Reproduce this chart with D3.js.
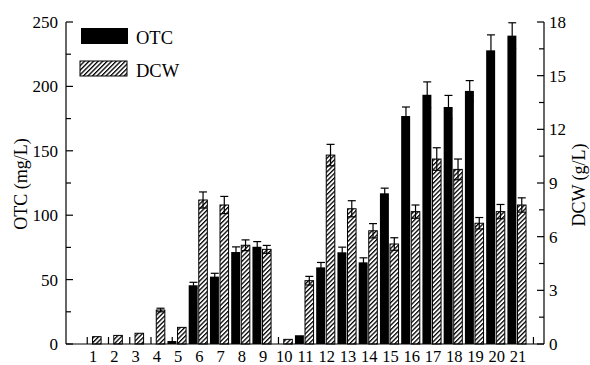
<!DOCTYPE html>
<html>
<head>
<meta charset="utf-8">
<script src="https://cdn.jsdelivr.net/npm/d3@7"></script>
<style>
  body { margin: 0; background: #fff; }
  svg text { font-family: "Liberation Serif", "Times New Roman", serif; fill: #000; }
</style>
</head>
<body>
<div id="chart"></div>
<script>
"use strict";

// Data
const categories = d3.range(1, 22).map(String);
const otcValues = [0, 0, 0, 0, 2.3, 45.6, 52.3, 71.4, 75.5, 0, 6.8, 59.5, 71.2, 63.4, 117, 177, 193.5, 184, 196.5, 228, 239.4];
const otcErrors = [0, 0, 0, 0, 0, 2.3, 2.6, 4, 4, 0, 0, 3.8, 4, 3.5, 4, 7, 10, 9, 8, 12, 10];
const dcwValues = [0.41, 0.48, 0.6, 1.9, 0.93, 8.05, 7.77, 5.52, 5.29, 0.26, 3.54, 10.56, 7.56, 6.33, 5.59, 7.4, 10.34, 9.76, 6.75, 7.4, 7.77];
const dcwErrors = [0, 0, 0, 0.1, 0, 0.45, 0.48, 0.3, 0.22, 0, 0.24, 0.6, 0.45, 0.4, 0.35, 0.37, 0.63, 0.58, 0.32, 0.4, 0.4];
const otcTicks = [0, 50, 100, 150, 200, 250];
const dcwTicks = [0, 3, 6, 9, 12, 15, 18];

const W = 590, H = 365;
const plotLeft = 66, plotRight = 544, plotTop = 22, plotBottom = 344;

const svg = d3.select("#chart").append("svg")
    .attr("width", W)
    .attr("height", H);

// hatch pattern for DCW bars
const defs = svg.append("defs");
defs.append("pattern")
    .attr("id", "hatch")
    .attr("patternUnits", "userSpaceOnUse")
    .attr("width", 3.2)
    .attr("height", 3.2)
    .attr("patternTransform", "rotate(45)")
    .append("rect")
    .attr("x", 0).attr("y", 0)
    .attr("width", 1.3).attr("height", 3.2)
    .attr("fill", "#000");

// Scales
const x = d3.scaleBand()
    .domain(categories)
    .range([81.4, 527.6])
    .paddingInner(0.1)
    .paddingOuter(0.05);
const half = x.bandwidth() / 2;
const yL = d3.scaleLinear().domain([0, 250]).range([plotBottom, plotTop]);
const yR = d3.scaleLinear().domain([0, 18]).range([plotBottom, plotTop]);

// Bars
const rows = categories.map((c, i) => ({
    c, otc: otcValues[i], otcE: otcErrors[i], dcw: dcwValues[i], dcwE: dcwErrors[i]
}));

svg.selectAll(".otc")
    .data(rows.filter(d => d.otc > 0))
    .enter().append("rect")
    .attr("class", "otc")
    .attr("x", d => x(d.c))
    .attr("y", d => yL(d.otc))
    .attr("width", half - 0.6)
    .attr("height", d => plotBottom - yL(d.otc))
    .attr("fill", "#000");

svg.selectAll(".dcw")
    .data(rows)
    .enter().append("rect")
    .attr("class", "dcw")
    .attr("x", d => x(d.c) + half + 0.5)
    .attr("y", d => yR(d.dcw))
    .attr("width", half - 1)
    .attr("height", d => plotBottom - yR(d.dcw))
    .attr("fill", "url(#hatch)")
    .attr("stroke", "#000")
    .attr("stroke-width", 1);

// Error bars
const drawErr = (cx, yHi, yLo) => {
    const g = svg.append("g").attr("stroke", "#000").attr("stroke-width", 1.2);
    g.append("line").attr("x1", cx).attr("x2", cx).attr("y1", yLo).attr("y2", yHi);
    g.append("line").attr("x1", cx - 4).attr("x2", cx + 4).attr("y1", yHi).attr("y2", yHi);
    g.append("line").attr("x1", cx - 4).attr("x2", cx + 4).attr("y1", yLo).attr("y2", yLo);
};
rows.forEach(d => {
    if (d.otcE > 0) {
        drawErr(x(d.c) + half / 2, yL(d.otc + d.otcE), yL(d.otc - d.otcE));
    }
    if (d.dcwE > 0) {
        drawErr(x(d.c) + half * 1.5, yR(d.dcw + d.dcwE), yR(d.dcw - d.dcwE));
    }
});

// Axes
const ax = svg.append("g").attr("stroke", "#000").attr("stroke-width", 1.2).attr("fill", "none");
ax.append("line").attr("x1", plotLeft).attr("x2", plotRight).attr("y1", plotBottom).attr("y2", plotBottom);
ax.append("line").attr("x1", plotLeft).attr("x2", plotLeft).attr("y1", plotBottom).attr("y2", plotTop);
ax.append("line").attr("x1", plotRight).attr("x2", plotRight).attr("y1", plotBottom).attr("y2", plotTop);

// left ticks (inward)
d3.range(0, 251, 25).forEach(v => {
    const major = v % 50 === 0;
    ax.append("line").attr("x1", plotLeft).attr("x2", plotLeft + (major ? 7 : 5))
        .attr("y1", yL(v)).attr("y2", yL(v));
});
svg.append("g").selectAll("text")
    .data(otcTicks).enter().append("text")
    .attr("x", plotLeft - 8)
    .attr("y", d => yL(d) + 6)
    .attr("text-anchor", "end")
    .attr("font-size", 17)
    .text(d => d);

// right ticks (inward)
d3.range(0, 18.01, 1.5).forEach(v => {
    const major = Math.abs(v % 3) < 1e-6;
    ax.append("line").attr("x1", plotRight).attr("x2", plotRight - (major ? 7 : 5))
        .attr("y1", yR(v)).attr("y2", yR(v));
});
svg.append("g").selectAll("text")
    .data(dcwTicks).enter().append("text")
    .attr("x", plotRight + 5)
    .attr("y", d => yR(d) + 6)
    .attr("text-anchor", "start")
    .attr("font-size", 17)
    .text(d => d);

// bottom ticks (inward, at the OTC bar centres, one extra at the end)
const tickXs = categories.map(c => x(c) + half / 2);
tickXs.push(x(categories[categories.length - 1]) + x.step() + half / 2);
tickXs.forEach(tx => {
    ax.append("line").attr("x1", tx).attr("x2", tx).attr("y1", plotBottom).attr("y2", plotBottom - 7);
});
svg.append("g").selectAll("text")
    .data(categories).enter().append("text")
    .attr("x", d => x(d) + half + 1)
    .attr("y", 362)
    .attr("text-anchor", "middle")
    .attr("font-size", 16.5)
    .text(d => d);

// Axis titles
svg.append("text")
    .attr("transform", "translate(27,184) rotate(-90)")
    .attr("text-anchor", "middle")
    .attr("font-size", 18)
    .text("OTC (mg/L)");
svg.append("text")
    .attr("transform", "translate(585,185) rotate(-90)")
    .attr("text-anchor", "middle")
    .attr("font-size", 18)
    .text("DCW (g/L)");

// Legend
const legend = svg.append("g");
legend.append("rect")
    .attr("x", 81).attr("y", 28).attr("width", 47).attr("height", 16)
    .attr("fill", "#000");
legend.append("text").attr("x", 136).attr("y", 43.5).attr("font-size", 18.5).text("OTC");
legend.append("rect")
    .attr("x", 80).attr("y", 61).attr("width", 47).attr("height", 15)
    .attr("fill", "url(#hatch)").attr("stroke", "#000").attr("stroke-width", 1);
legend.append("text").attr("x", 136).attr("y", 76.5).attr("font-size", 18.5).text("DCW");
</script>
</body>
</html>
